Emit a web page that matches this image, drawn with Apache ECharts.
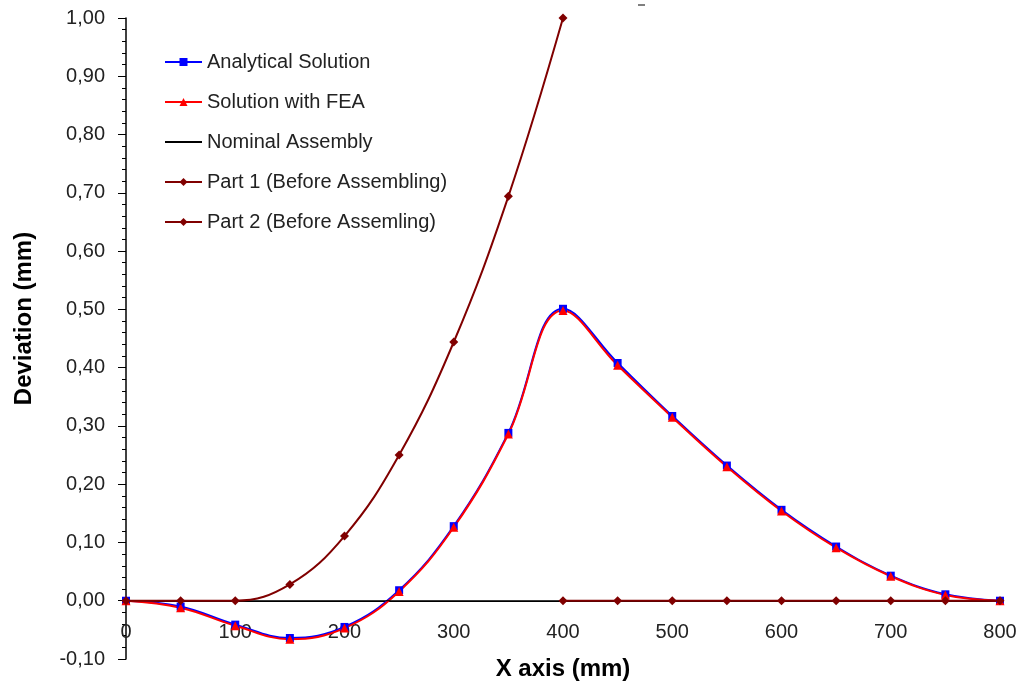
<!DOCTYPE html>
<html lang="en">
<head>
    <meta charset="utf-8" />
    <title>Deviation chart</title>
    <script src="https://cdn.jsdelivr.net/npm/echarts@6/dist/echarts.min.js"></script>
    <style>
        html, body { margin: 0; padding: 0; background: #fff; }
        #chartmain { width: 1024px; height: 686px; }
    </style>
</head>
<body>
    <div id="chartmain"></div>
    <script>
        // data
        var xPos = [0, 50, 100, 150, 200, 250, 300, 350, 400, 450, 500, 550, 600, 650, 700, 750, 800];
        var analytical = [0, -0.010, -0.041, -0.064, -0.045, 0.018, 0.128, 0.288, 0.501, 0.408, 0.317, 0.232, 0.156, 0.093, 0.043, 0.011, 0];
        var fea = [0, -0.012, -0.043, -0.066, -0.047, 0.016, 0.126, 0.286, 0.498, 0.404, 0.315, 0.230, 0.154, 0.091, 0.042, 0.010, 0];
        var nominalX = [0, 800];
        var nominal = [0, 0];
        var part1X = [0, 50, 100, 150, 200, 250, 300, 350, 400];
        var part1 = [0, 0, 0, 0.028, 0.111, 0.250, 0.444, 0.694, 1.0];
        var part2X = [400, 450, 500, 550, 600, 650, 700, 750, 800];
        var part2 = [0, 0, 0, 0, 0, 0, 0, 0, 0];

        function pairs(xs, ys) { return xs.map(function (x, i) { return [x, ys[i]]; }); }

        var font = 'Liberation Sans, Arial, sans-serif';
        var chart = echarts.init(document.getElementById('chartmain'));
        chart.setOption({
            backgroundColor: '#ffffff',
            animation: false,
            grid: { left: 126, right: 24, top: 18, bottom: 27, outerBoundsMode: 'none', containLabel: false },
            legend: {
                orient: 'vertical', left: 159, top: 47, itemGap: 20, itemWidth: 37, itemHeight: 10,
                textStyle: { fontFamily: font, fontSize: 20, lineHeight: 20, color: '#222' },
                data: [
                    'Analytical Solution',
                    'Solution with FEA',
                    { name: 'Nominal Assembly', itemStyle: { opacity: 0 } },
                    'Part 1 (Before Assembling)',
                    'Part 2 (Before Assemling)'
                ]
            },
            xAxis: {
                type: 'value', min: 0, max: 800, interval: 100,
                // x axis sits on the zero line (58px above the grid bottom)
                offset: -58,
                name: 'X axis (mm)', nameLocation: 'middle', nameGap: 56,
                nameTextStyle: { fontFamily: font, fontSize: 24, fontWeight: 'bold', color: '#000' },
                axisLine: { show: true, onZero: false, lineStyle: { color: '#000', width: 1 } },
                axisTick: { show: false },
                axisLabel: { margin: 21, fontFamily: font, fontSize: 20, color: '#222' },
                splitLine: { show: false }
            },
            yAxis: {
                type: 'value', min: -0.1, max: 1.0, interval: 0.1,
                name: 'Deviation (mm)', nameLocation: 'middle', nameGap: 90, nameRotate: 90,
                nameTextStyle: { fontFamily: font, fontSize: 24, fontWeight: 'bold', color: '#000', padding: [0, 0, 0, 40] },
                axisLine: { show: true, onZero: false, lineStyle: { color: '#000', width: 1.5 } },
                axisTick: { show: true, length: 8, lineStyle: { color: '#000' } },
                minorTick: { show: true, splitNumber: 5, length: 4, lineStyle: { color: '#000' } },
                axisLabel: {
                    margin: 21, fontFamily: font, fontSize: 20, color: '#222',
                    formatter: function (v) { return v.toFixed(2).replace('.', ','); }
                },
                splitLine: { show: false }
            },
            series: [
                {
                    name: 'Analytical Solution', type: 'line', smooth: 0.4, data: pairs(xPos, analytical),
                    symbol: 'rect', symbolSize: 8, itemStyle: { color: '#0000ff' }, lineStyle: { color: '#0000ff', width: 2 }
                },
                {
                    name: 'Solution with FEA', type: 'line', smooth: 0.4, data: pairs(xPos, fea),
                    symbol: 'triangle', symbolSize: 9, itemStyle: { color: '#ff0000' }, lineStyle: { color: '#ff0000', width: 2 }
                },
                {
                    name: 'Nominal Assembly', type: 'line', data: pairs(nominalX, nominal),
                    showSymbol: false, symbol: 'none', itemStyle: { color: '#000' }, lineStyle: { color: '#000', width: 1 }
                },
                {
                    name: 'Part 1 (Before Assembling)', type: 'line', smooth: 0.4, data: pairs(part1X, part1),
                    symbol: 'diamond', symbolSize: 9, itemStyle: { color: '#800000' }, lineStyle: { color: '#800000', width: 2 }
                },
                {
                    name: 'Part 2 (Before Assemling)', type: 'line', data: pairs(part2X, part2),
                    symbol: 'diamond', symbolSize: 9, itemStyle: { color: '#800000' }, lineStyle: { color: '#800000', width: 2 }
                }
            ],
            graphic: [
                { type: 'line', shape: { x1: 638, y1: 5, x2: 645, y2: 5 }, style: { stroke: '#000', lineWidth: 1 } }
            ]
        });
    </script>
</body>
</html>
